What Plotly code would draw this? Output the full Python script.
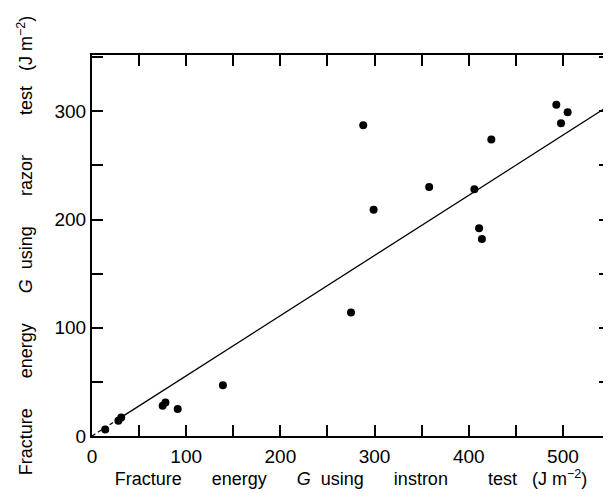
import plotly.graph_objects as go

# Data (J m^-2)
instron_G = [14, 28, 31, 75, 78, 91, 139, 275, 288, 299, 358, 406, 411, 414, 424, 493, 498, 505]
razor_G = [6, 14, 17, 28, 31, 25, 47, 114, 287, 209, 230, 228, 192, 182, 274, 306, 289, 299]

fit_dash_x = [0, 28]
fit_dash_y = [0, 15.6]
fit_solid_x = [28, 545]
fit_solid_y = [15.6, 303]

x_tickvals = [0, 100, 200, 300, 400, 500]
x_ticktext = ["0", "100", "200", "300", "400", "500"]
x_minorvals = [50, 150, 250, 350, 450, 550]
y_tickvals = [0, 100, 200, 300]
y_ticktext = ["0", "100", "200", "300"]
y_minorvals = [50, 150, 250, 350]

NB = "\u00a0"
x_title = (f"Fracture{NB*6}energy{NB*6}<i>G</i>{NB*2}using{NB*6}instron{NB*8}"
           f"test{NB*3}(J{NB}m<sup>−2</sup>)")
y_title = (f"Fracture{NB*6}energy{NB*6}<i>G</i>{NB*2}using{NB*6}razor{NB*8}"
           f"test{NB*3}(J{NB}m<sup>−2</sup>)")

font_family = "Liberation Sans, Arial, sans-serif"

fig = go.Figure()
fig.add_trace(go.Scatter(x=fit_dash_x, y=fit_dash_y, mode="lines",
                         line=dict(color="black", width=1.3, dash="4px,3px"),
                         showlegend=False, hoverinfo="skip"))
fig.add_trace(go.Scatter(x=fit_solid_x, y=fit_solid_y, mode="lines",
                         line=dict(color="black", width=1.3),
                         showlegend=False, hoverinfo="skip"))
fig.add_trace(go.Scatter(x=instron_G, y=razor_G, mode="markers",
                         marker=dict(color="black", size=8),
                         showlegend=False))

def axis_common(minorvals):
    return dict(
        showline=True, linecolor="black", linewidth=2, mirror="ticks",
        ticks="inside", ticklen=11, tickwidth=1.5, tickcolor="black",
        minor=dict(tickmode="array", tickvals=minorvals, ticks="inside",
                   ticklen=11, tickwidth=1.5, tickcolor="black", showgrid=False),
        showgrid=False, zeroline=False, automargin=False,
        tickfont=dict(family=font_family, size=19, color="black"),
    )

fig.update_layout(
    width=611, height=497,
    margin=dict(l=84, r=9, t=47, b=69),
    paper_bgcolor="white", plot_bgcolor="white",
    font=dict(family=font_family, color="black"),
    xaxis=dict(range=[0, 550], tickmode="array", tickvals=x_tickvals, ticktext=x_ticktext,
               ticklabelstandoff=2,
               title=dict(text=x_title, font=dict(size=18, family=font_family), standoff=1),
               **axis_common(x_minorvals)),
    yaxis=dict(range=[0, 352], tickmode="array", tickvals=y_tickvals, ticktext=y_ticktext,
               title=dict(text=y_title, font=dict(size=18, family=font_family), standoff=17),
               **axis_common(y_minorvals)),
)

fig.write_html("out.html")
